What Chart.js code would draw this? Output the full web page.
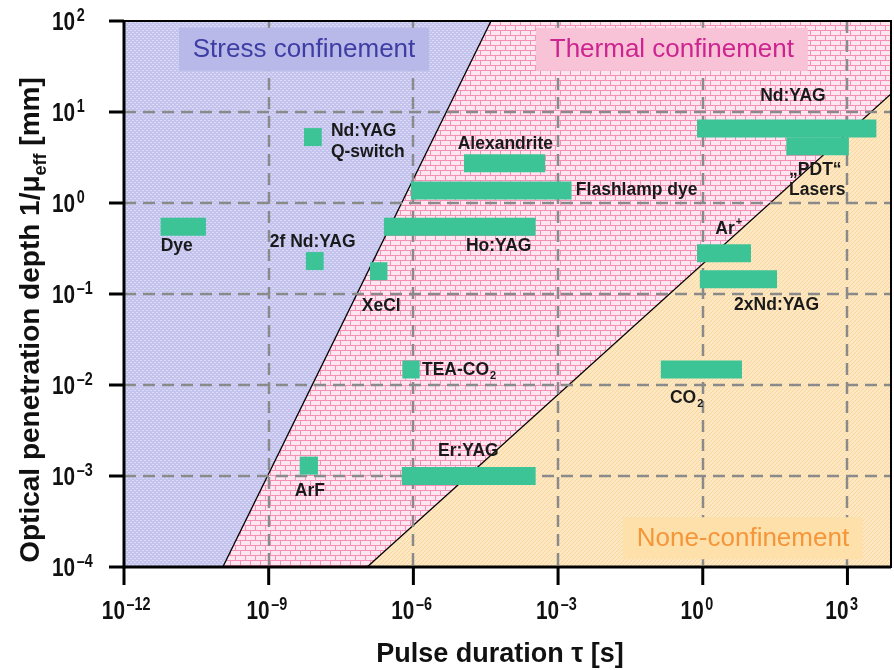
<!DOCTYPE html>
<html>
<head>
<meta charset="utf-8">
<script src="https://cdn.jsdelivr.net/npm/chart.js@4.4.0/dist/chart.umd.min.js"></script>
<style>
html, body { margin: 0; padding: 0; background: #fff; }
#wrap { width: 894px; height: 670px; }
</style>
</head>
<body>
<div id="wrap"><canvas id="myChart" width="894" height="670"></canvas></div>
<script>
// laser sources: pulse duration range [s] and optical penetration depth [mm]
var lasers = ["Nd:YAG Q-switch", "Dye", "2f Nd:YAG", "XeCl", "Ho:YAG", "TEA-CO2", "ArF", "Er:YAG",
              "Alexandrite", "Flashlamp dye", "Nd:YAG", "PDT Lasers", "Ar+", "2xNd:YAG", "CO2"];
var tauMin = [5.4e-9, 5.75e-12, 5.9e-9, 1.26e-7, 2.45e-7, 5.9e-7, 4.4e-9, 5.75e-7,
              1.12e-5, 8.9e-7, 0.76, 54, 0.76, 0.87, 0.135];
var tauMax = [1.26e-8, 5.0e-11, 1.38e-8, 2.9e-7, 3.43e-4, 1.35e-6, 1.05e-8, 3.43e-4,
              5.4e-4, 1.9e-3, 3980, 1070, 10, 34.7, 6.5];
var depth  = [5.3, 0.55, 0.23, 0.178, 0.55, 0.0148, 1.3e-3, 1.0e-3,
              2.74, 1.37, 6.6, 4.2, 0.28, 0.145, 0.0148];

// axis range and tick exponents
var tauRange = [1e-12, 8000];
var depthRange = [1e-4, 100];
var xExp = [-12, -9, -6, -3, 0, 3];
var yExp = [-4, -3, -2, -1, 0, 1, 2];

// confinement boundaries (end points in data units)
var stressEdge = [{x: 1.12e-10, y: 1e-4}, {x: 4.07e-5, y: 100}];
var thermalEdge = [{x: 1.1e-7, y: 1e-4}, {x: 8000, y: 15.8}];

// labels next to the bars
var notes = [
    {t: "Nd:YAG", x: 1.95e-8, y: 6.14},
    {t: "Q-switch", x: 1.95e-8, y: 3.6},
    {t: "Alexandrite", x: 8.3e-6, y: 4.42},
    {t: "Flashlamp dye", x: 2.34e-3, y: 1.38},
    {t: "Dye", x: 5.75e-12, y: 0.334},
    {t: "2f Nd:YAG", x: 1.05e-9, y: 0.37},
    {t: "Ho:YAG", x: 1.23e-5, y: 0.334},
    {t: "XeCl", x: 8.5e-8, y: 0.0733},
    {t: "TEA-CO_2", x: 1.51e-6, y: 0.01452},
    {t: "Ar^+", x: 1.82, y: 0.514},
    {t: "2xNd:YAG", x: 4.47, y: 0.0752},
    {t: "CO_2", x: 0.209, y: 7.1e-3},
    {t: "Er:YAG", x: 3.24e-6, y: 1.87e-3},
    {t: "ArF", x: 3.47e-9, y: 6.8e-4},
    {t: "Nd:YAG", x: 15.5, y: 14.9},
    {t: "\u201EPDT\u201C", x: 61.7, y: 2.29},
    {t: "Lasers", x: 61.7, y: 1.38}
];

var boxes = [
    {t: "Stress confinement", x: 5.4e-9, y: 48.9, w: 250, h: 43, fill: "#b9b9e9", color: "#3d3da4"},
    {t: "Thermal confinement", x: 0.229, y: 48.9, w: 272, h: 43, fill: "#f9c3d7", color: "#cc2590"},
    {t: "None-confinement", x: 6.8, y: 2.07e-4, w: 240, h: 42, fill: "#fde0aa", color: "#f6963a"}
];

var FONT = "'Liberation Sans', Arial, Helvetica, sans-serif";
var canvas = document.getElementById("myChart");
var c2d = canvas.getContext("2d");

function makePattern(w, h, draw) {
    var t = document.createElement("canvas");
    t.width = w; t.height = h;
    draw(t.getContext("2d"));
    return c2d.createPattern(t, "repeat");
}

var stressFill = makePattern(4, 4, function(g) {
    g.fillStyle = "#c3c3ee"; g.fillRect(0, 0, 4, 4);
    g.fillStyle = "#dcdcf7";
    g.fillRect(0, 0, 2, 1); g.fillRect(2, 2, 2, 1);
});
var thermalFill = makePattern(10, 10, function(g) {
    g.fillStyle = "#fde6ef"; g.fillRect(0, 0, 10, 10);
    g.fillStyle = "#f58fb3";
    g.fillRect(0, 0, 10, 1); g.fillRect(0, 5, 10, 1);
    g.fillRect(0, 0, 1, 5); g.fillRect(5, 5, 1, 5);
});
var noneFill = makePattern(4, 4, function(g) {
    g.fillStyle = "#fde8c3"; g.fillRect(0, 0, 4, 4);
    g.fillStyle = "#f9d79c";
    g.fillRect(3, 0, 1, 1); g.fillRect(2, 1, 1, 1); g.fillRect(1, 2, 1, 1); g.fillRect(0, 3, 1, 1);
});

var x0 = tauRange[0], x1 = tauRange[1], y0 = depthRange[0], y1 = depthRange[1];
var regions = [
    {label: "stress", fill: stressFill,
     pts: [{x: x0, y: y0}, {x: x0, y: y1}, stressEdge[1], stressEdge[0]]},
    {label: "thermal", fill: thermalFill,
     pts: [stressEdge[0], stressEdge[1], {x: x1, y: y1}, thermalEdge[1], thermalEdge[0]]},
    {label: "none", fill: noneFill,
     pts: [thermalEdge[0], thermalEdge[1], {x: x1, y: y0}]}
];

var datasets = [];
lasers.forEach(function(name, i) {
    datasets.push({
        label: name, layer: "bar", order: 1,
        data: [{x: tauMin[i], y: depth[i]}, {x: tauMax[i], y: depth[i]}],
        showLine: true, borderColor: "#3cc497", borderWidth: 18, borderCapStyle: "butt",
        pointRadius: 0, fill: false
    });
});
[stressEdge, thermalEdge].forEach(function(e) {
    datasets.push({
        label: "edge", layer: "edge", order: 2, data: e, showLine: true,
        borderColor: "#000", borderWidth: 1.3, pointRadius: 0, fill: false
    });
});
regions.forEach(function(r) {
    datasets.push({
        label: r.label, layer: "region", order: 3, data: r.pts, showLine: true,
        borderWidth: 0, borderColor: "rgba(0,0,0,0)", backgroundColor: r.fill,
        pointRadius: 0, fill: "shape"
    });
});

function richText(g, text, x, y, size) {
    // "_" starts a subscript, "^" a superscript, to the end of the text
    var main = text, extra = "", shift = 0;
    var k = text.search(/[_^]/);
    if (k >= 0) {
        main = text.slice(0, k); extra = text.slice(k + 1);
        shift = text[k] === "_" ? size * 0.3 : -size * 0.4;
    }
    g.font = "bold " + size + "px " + FONT;
    g.fillText(main, x, y);
    if (extra) {
        var w = g.measureText(main).width;
        g.font = "bold " + Math.round(size * 0.65) + "px " + FONT;
        g.fillText(extra, x + w + 1, y + shift);
    }
}

function powLabel(g, e, x, y, align) {
    var sc = 0.8;
    var ex = (e < 0 ? "\u2013" : "") + Math.abs(e);
    g.save();
    g.translate(x, y);
    g.scale(sc, 1);
    g.font = "bold 26px " + FONT;
    var w = g.measureText("10").width;
    var left = align === "right" ? -w : 0;
    g.textAlign = "left";
    g.fillText("10", left, 0);
    g.font = "bold 18px " + FONT;
    g.fillText(ex, left + w + 2, -9);
    g.restore();
}

var drawn = false;
var figPlugin = {
    id: "fig",
    beforeDraw: function() { drawn = false; },
    beforeDatasetDraw: function(chart, args) {
        if (drawn || chart.data.datasets[args.index].layer !== "bar") return;
        drawn = true;
        var g = chart.ctx, a = chart.chartArea, sx = chart.scales.x, sy = chart.scales.y;
        g.save();
        g.strokeStyle = "#8a8a8a";
        g.lineWidth = 2.5;
        g.setLineDash([12, 7]);
        xExp.forEach(function(e) {
            var px = Math.round(sx.getPixelForValue(Math.pow(10, e)));
            if (px <= a.left + 2 || px >= a.right - 2) return;
            g.beginPath(); g.moveTo(px, a.top); g.lineTo(px, a.bottom); g.stroke();
        });
        yExp.forEach(function(e) {
            var py = Math.round(sy.getPixelForValue(Math.pow(10, e)));
            if (py <= a.top + 2 || py >= a.bottom - 2) return;
            g.beginPath(); g.moveTo(a.left, py); g.lineTo(a.right, py); g.stroke();
        });
        g.setLineDash([]);
        boxes.forEach(function(b) {
            var cx = sx.getPixelForValue(b.x), cy = sy.getPixelForValue(b.y);
            g.fillStyle = b.fill;
            g.fillRect(cx - b.w / 2, cy - b.h / 2, b.w, b.h);
            g.fillStyle = b.color;
            g.font = "26px " + FONT;
            g.textAlign = "center";
            g.textBaseline = "middle";
            g.fillText(b.t, cx, cy + 1);
        });
        g.restore();
    },
    afterDraw: function(chart) {
        var g = chart.ctx, a = chart.chartArea, sx = chart.scales.x, sy = chart.scales.y;
        g.save();
        g.fillStyle = "#1a1a1a";
        g.textAlign = "left";
        g.textBaseline = "middle";
        notes.forEach(function(n) {
            richText(g, n.t, sx.getPixelForValue(n.x), sy.getPixelForValue(n.y), 17.5);
        });

        g.strokeStyle = "#000";
        g.lineWidth = 2;
        g.strokeRect(a.left, a.top, a.right - a.left, a.bottom - a.top);
        g.lineWidth = 3;
        g.beginPath(); g.moveTo(a.left, a.top); g.lineTo(a.left, a.bottom); g.lineTo(a.right, a.bottom); g.stroke();

        g.fillStyle = "#111";
        g.textBaseline = "alphabetic";
        xExp.forEach(function(e) {
            var px = sx.getPixelForValue(Math.pow(10, e));
            g.beginPath(); g.moveTo(px, a.bottom); g.lineTo(px, a.bottom + 18); g.stroke();
            powLabel(g, e, px + 1, 619, "right");
        });
        yExp.forEach(function(e) {
            var py = sy.getPixelForValue(Math.pow(10, e));
            g.beginPath(); g.moveTo(a.left, py); g.lineTo(a.left - 15, py); g.stroke();
            powLabel(g, e, 52, py + 9, "left");
        });

        // axis titles
        g.font = "bold 27px " + FONT;
        g.textAlign = "center";
        g.fillText("Pulse duration \u03C4 [s]", 500, 662);

        var parts = [["Optical penetration depth 1/\u03BC", 28, 0], ["eff", 18, 7], [" [mm]", 28, 0]];
        g.save();
        g.translate(39, 320);
        g.rotate(-Math.PI / 2);
        g.textAlign = "left";
        var total = 0;
        parts.forEach(function(p) { g.font = "bold " + p[1] + "px " + FONT; total += g.measureText(p[0]).width; });
        var pos = -total / 2;
        parts.forEach(function(p) {
            g.font = "bold " + p[1] + "px " + FONT;
            g.fillText(p[0], pos, p[2]);
            pos += g.measureText(p[0]).width;
        });
        g.restore();
        g.restore();
    }
};

var myChart = new Chart(canvas, {
    type: "scatter",
    data: { datasets: datasets },
    options: {
        responsive: false,
        animation: false,
        layout: { padding: { top: 21, right: 3, left: 0, bottom: 0 } },
        plugins: { legend: { display: false }, tooltip: { enabled: false } },
        scales: {
            x: {
                type: "logarithmic", min: tauRange[0], max: tauRange[1],
                ticks: { display: false }, grid: { display: false }, border: { display: false },
                afterFit: function(s) { s.height = 103; }
            },
            y: {
                type: "logarithmic", min: depthRange[0], max: depthRange[1],
                ticks: { display: false }, grid: { display: false }, border: { display: false },
                afterFit: function(s) { s.width = 124; }
            }
        }
    },
    plugins: [figPlugin]
});
</script>
</body>
</html>
